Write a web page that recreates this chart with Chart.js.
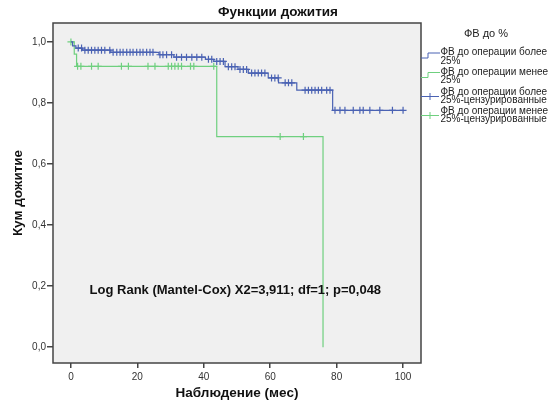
<!DOCTYPE html>
<html>
<head>
<meta charset="utf-8">
<script src="https://cdn.jsdelivr.net/npm/chart.js@4/dist/chart.umd.min.js"></script>
<style>
  html, body { margin: 0; padding: 0; background: #fff; }
  #wrap { width: 548px; height: 405px; }
</style>
</head>
<body>
<div id="wrap"><canvas id="km"></canvas></div>
<script>
// Kaplan-Meier survival by EF group (months of follow-up)
const highEventTimes = [0, 0.5, 1.5, 3.5, 12, 26.5, 31, 40.5, 43, 46.4, 50.3, 53.4, 59.4, 62.5, 68, 78.8, 100];
const highSurvival   = [1, 0.987, 0.980, 0.973, 0.966, 0.958, 0.950, 0.943, 0.936, 0.919, 0.910, 0.898, 0.882, 0.866, 0.842, 0.776, 0.776];
const highCensored = [2.2, 3.2, 4.2, 5.2, 6.2, 7.2, 8.2, 9.2, 10.2, 11.7, 12.7, 13.8, 14.8, 15.7, 16.8, 17.8, 18.7,
  19.8, 20.8, 21.7, 22.8, 23.8, 24.7, 26.8, 27.7, 28.8, 30.3, 31.8, 33.3, 34.8, 36.4, 37.9, 39.4, 41.4, 42.4, 43.9,
  44.9, 45.9, 47.4, 48.4, 49.4, 50.9, 51.9, 52.9, 54.4, 55.4, 56.4, 57.4, 58.4, 60.4, 61.4, 62.4, 64.5, 65.5, 66.5,
  70.5, 71.5, 72.5, 73.5, 74.5, 75.5, 77, 78, 79.5, 81, 82.5, 85, 87, 88, 90, 93, 96.8, 100];

const lowEventTimes = [0, 1.0, 1.7, 43.9, 75.9];
const lowSurvival   = [1, 0.96, 0.92, 0.69, 0];
const lowCensored = [0, 2, 3, 6.2, 8.2, 15.2, 17.3, 23.2, 25.3, 29.3, 30.3, 31.3, 32.3, 33.3, 36, 37, 43, 63, 70];

const xTicks = [0, 20, 40, 60, 80, 100];
const yTicks = [0, 0.2, 0.4, 0.6, 0.8, 1.0];
const legendLabels = [
  ['ФВ до операции более', '25%'],
  ['ФВ до операции менее', '25%'],
  ['ФВ до операции более', '25%-цензурированные'],
  ['ФВ до операции менее', '25%-цензурированные'],
];
const testText = 'Log Rank (Mantel-Cox) X2=3,911; df=1; p=0,048';

const BLUE = '#4a62b3';
const GREEN = '#6fd07f';
const AXIS = '#444';
const FONT = '"Liberation Sans", Arial, sans-serif';

function curve(times, surv) {
  return times.map((t, i) => ({ x: t, y: surv[i] }));
}
function survAt(times, surv, t) {
  let v = surv[0];
  for (let i = 0; i < times.length; i++) if (times[i] <= t) v = surv[i];
  return v;
}
function censorPoints(cens, times, surv) {
  return cens.map((t) => ({ x: t, y: survAt(times, surv, t) }));
}

const comma = (v) => v.toFixed(1).replace('.', ',');

// plot background, frame, title, test note and the legend
const decor = {
  id: 'decor',
  beforeDraw(chart) {
    const { ctx, chartArea: a } = chart;
    ctx.save();
    ctx.fillStyle = '#f0f0f0';
    ctx.fillRect(a.left, a.top, a.right - a.left, a.bottom - a.top);
    ctx.restore();
  },
  afterDraw(chart) {
    const { ctx, chartArea: a, scales } = chart;
    ctx.save();
    ctx.strokeStyle = AXIS;
    ctx.lineWidth = 1.5;
    ctx.strokeRect(a.left, a.top, a.right - a.left, a.bottom - a.top);

    // chart title sits over the full width, legend included
    ctx.fillStyle = '#111';
    ctx.textAlign = 'center';
    ctx.textBaseline = 'middle';
    ctx.font = 'bold 13.5px ' + FONT;
    ctx.fillText('Функции дожития', chart.width / 2 + 4, 12);

    ctx.font = 'bold 13px ' + FONT;
    ctx.fillText(testText, scales.x.getPixelForValue(49.5), scales.y.getPixelForValue(0.187));

    // legend
    ctx.fillStyle = '#222';
    ctx.font = '11px ' + FONT;
    ctx.fillText('ФВ до %', 486, 34);
    ctx.font = '10px ' + FONT;
    ctx.textAlign = 'left';
    const rows = [52.5, 72, 92, 111];
    rows.forEach((y, i) => {
      const color = i % 2 === 0 ? BLUE : GREEN;
      ctx.strokeStyle = color;
      ctx.lineWidth = 1;
      ctx.beginPath();
      if (i < 2) {
        ctx.moveTo(421, y + 5.5);
        ctx.lineTo(428, y + 5.5);
        ctx.lineTo(428, y + 0.5);
        ctx.lineTo(440, y + 0.5);
      } else {
        const my = y + 4.5;
        ctx.moveTo(421, my);
        ctx.lineTo(439, my);
        ctx.moveTo(430, my - 3.5);
        ctx.lineTo(430, my + 3.5);
      }
      ctx.stroke();
      ctx.fillText(legendLabels[i][0], 440.5, y);
      ctx.fillText(legendLabels[i][1], 440.5, y + 8.5);
    });
    ctx.restore();
  },
};

const crossStyle = (color) => ({
  type: 'scatter',
  pointStyle: 'cross',
  pointRadius: 3.5,
  pointBorderWidth: 1.2,
  borderColor: color,
  backgroundColor: color,
  showLine: false,
});

new Chart(document.getElementById('km'), {
  type: 'line',
  data: {
    datasets: [
      { data: curve(highEventTimes, highSurvival), stepped: true, borderColor: BLUE, borderWidth: 1.2, pointRadius: 0 },
      { data: curve(lowEventTimes, lowSurvival), stepped: true, borderColor: GREEN, borderWidth: 1.2, pointRadius: 0 },
      { data: censorPoints(highCensored, highEventTimes, highSurvival), ...crossStyle(BLUE) },
      { data: censorPoints(lowCensored, lowEventTimes, lowSurvival), ...crossStyle(GREEN) },
    ],
  },
  options: {
    responsive: true,
    maintainAspectRatio: false,
    animation: false,
    layout: { padding: { top: 23, right: 127, left: 0, bottom: 0 } },
    plugins: { legend: { display: false }, tooltip: { enabled: false } },
    scales: {
      x: {
        type: 'linear',
        min: -5.4,
        max: 105.4,
        afterBuildTicks: (s) => { s.ticks = xTicks.map((v) => ({ value: v })); },
        afterFit: (s) => { s.height = 42; },
        border: { display: false },
        grid: { drawOnChartArea: false, drawTicks: true, tickLength: 5, color: AXIS, lineWidth: 1.5 },
        ticks: { color: '#333', font: { family: FONT, size: 10 }, padding: 3, maxRotation: 0 },
        title: { display: true, text: 'Наблюдение (мес)', color: '#111', font: { family: FONT, size: 13.5, weight: 'bold' }, padding: { top: 0, bottom: 4 } },
      },
      y: {
        min: -0.052,
        max: 1.062,
        afterBuildTicks: (s) => { s.ticks = yTicks.map((v) => ({ value: v })); },
        afterFit: (s) => { s.width = 53; },
        border: { display: false },
        grid: { drawOnChartArea: false, drawTicks: true, tickLength: 6, color: AXIS, lineWidth: 1.5 },
        ticks: { color: '#333', font: { family: FONT, size: 10 }, padding: 1, callback: (v) => comma(v) },
        title: { display: true, text: 'Кум дожитие', color: '#111', font: { family: FONT, size: 13.5, weight: 'bold' }, padding: { top: 10, bottom: 0 } },
      },
    },
  },
  plugins: [decor],
});
</script>
</body>
</html>
